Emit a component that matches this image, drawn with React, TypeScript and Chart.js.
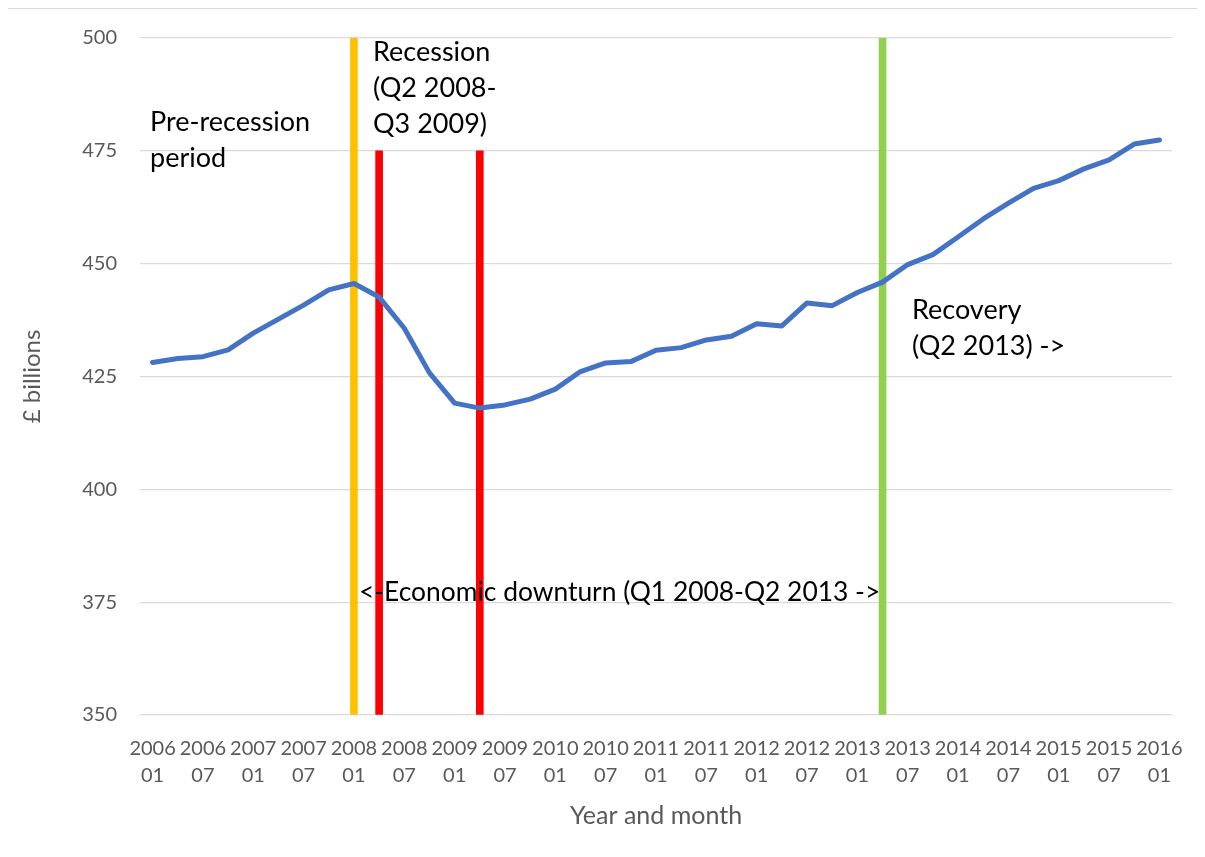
import { useEffect, useRef } from "react";
import { Chart, registerables } from "chart.js";

Chart.register(...registerables);

// Quarterly categories (year month)
const categories: string[] = [
  "2006 01", "2006 04", "2006 07", "2006 10",
  "2007 01", "2007 04", "2007 07", "2007 10",
  "2008 01", "2008 04", "2008 07", "2008 10",
  "2009 01", "2009 04", "2009 07", "2009 10",
  "2010 01", "2010 04", "2010 07", "2010 10",
  "2011 01", "2011 04", "2011 07", "2011 10",
  "2012 01", "2012 04", "2012 07", "2012 10",
  "2013 01", "2013 04", "2013 07", "2013 10",
  "2014 01", "2014 04", "2014 07", "2014 10",
  "2015 01", "2015 04", "2015 07", "2015 10",
  "2016 01",
];

// £ billions
const seriesValues: number[] = [
  428.1, 429.0, 429.4, 430.9,
  434.6, 437.7, 440.8, 444.2,
  445.6, 442.6, 435.7, 425.8,
  419.1, 418.0, 418.7, 420.0,
  422.2, 426.1, 428.0, 428.3,
  430.8, 431.4, 433.1, 433.9,
  436.7, 436.2, 441.3, 440.7,
  443.6, 445.9, 449.8, 452.0,
  455.9, 459.9, 463.4, 466.7,
  468.4, 471.0, 473.0, 476.5,
  477.4,
];

// Period marker bars
const markerCategories: string[] = ["2008 01", "2008 04", "2009 04", "2013 04"];
const markerValues: number[] = [500, 475, 475, 500];

const yTicks = { min: 350, max: 500, step: 25 };

const preRecessionText = ["Pre-recession", "period"];
const recessionText = ["Recession", "(Q2 2008-", "Q3 2009)"];
const recoveryText = ["Recovery", "(Q2 2013) ->"];
const downturnText = ["<-Economic downturn (Q1 2008-Q2 2013 ->"];

const xTitle = "Year and month";
const yTitle = "£ billions";

export default function App() {
  const ref = useRef<HTMLCanvasElement | null>(null);

  useEffect(() => {
    if (!ref.current) return;
    const markerColorMap: Record<string, string> = {
      "2008 01": "#FFC000",
      "2008 04": "#FF0000",
      "2009 04": "#FF0000",
      "2013 04": "#92D050",
    };
    const barData = categories.map((c) => {
      const i = markerCategories.indexOf(c);
      return i >= 0 ? markerValues[i] : null;
    });
    const barColors = categories.map((c) => markerColorMap[c] || "transparent");

    const labelPlugin = {
      id: "periodLabels",
      afterDatasetsDraw(chart: any) {
        const { ctx, chartArea } = chart;
        const groups = [
          { lines: preRecessionText, dx: 10, dy: 84, size: 27 },
          { lines: recessionText, dx: 233, dy: 14, size: 27 },
          { lines: recoveryText, dx: 772, dy: 272, size: 27 },
          { lines: downturnText, dx: 219, dy: 554, size: 26.4 },
        ];
        ctx.save();
        ctx.fillStyle = "#000000";
        ctx.textBaseline = "middle";
        ctx.textAlign = "left";
        for (const g of groups) {
          ctx.font = `${g.size}px Lato`;
          g.lines.forEach((line, i) => {
            ctx.fillText(line, chartArea.left + g.dx, chartArea.top + g.dy + i * 36);
          });
        }
        ctx.restore();
      },
    };

    const chart = new Chart(ref.current, {
      type: "bar",
      data: {
        labels: categories,
        datasets: [
          {
            type: "line",
            data: seriesValues,
            borderColor: "#4472C4",
            borderWidth: 5,
            pointRadius: 0,
            borderCapStyle: "round",
            borderJoinStyle: "round",
            tension: 0,
            fill: false,
            order: 0,
          } as any,
          {
            type: "bar",
            data: barData,
            backgroundColor: barColors,
            barThickness: 7,
            base: yTicks.min,
            order: 1,
          } as any,
        ],
      },
      options: {
        responsive: false,
        animation: false,
        layout: { padding: { left: 0, top: 29, right: 33, bottom: 11 } },
        plugins: {
          legend: { display: false },
          tooltip: { enabled: false },
        },
        scales: {
          x: {
            type: "category",
            offset: true,
            grid: { display: false, drawTicks: false },
            border: { display: false },
            ticks: {
              autoSkip: false,
              maxRotation: 0,
              minRotation: 0,
              padding: 20,
              color: "#595959",
              font: { family: "Lato", size: 20, lineHeight: 1.35 },
              callback: function (this: any, value: any, index: number) {
                const label = this.getLabelForValue(value) as string;
                return index % 2 === 0 ? label.split(" ") : "";
              },
            },
            title: {
              display: true,
              text: xTitle,
              color: "#595959",
              font: { family: "Lato", size: 25, lineHeight: 1.2 },
              padding: { top: 0, bottom: 14 },
            },
            afterFit: (s: any) => {
              s.height = 130;
            },
          },
          y: {
            min: yTicks.min,
            max: yTicks.max,
            grid: {
              color: "#D9D9D9",
              lineWidth: 1.3,
              drawTicks: true,
              tickLength: 20,
              tickColor: "rgba(0,0,0,0)",
            },
            border: { display: false },
            ticks: {
              stepSize: yTicks.step,
              padding: 3,
              color: "#595959",
              font: { family: "Lato", size: 20 },
            },
            title: {
              display: true,
              text: yTitle,
              color: "#595959",
              font: { family: "Lato", size: 24, lineHeight: 1.2 },
              padding: { top: 10, bottom: 0 },
            },
            afterFit: (s: any) => {
              s.width = 132;
            },
          },
        },
      },
      plugins: [labelPlugin],
    });
    return () => chart.destroy();
  }, []);

  return (
    <div
      style={{
        marginLeft: -1,
        width: 1197,
        height: 849,
        borderLeft: "1px solid #D9D9D9",
        borderTop: "1px solid #D9D9D9",
        overflow: "hidden",
      }}
    >
      <canvas ref={ref} width={1197} height={847} style={{ display: "block" }} />
    </div>
  );
}
